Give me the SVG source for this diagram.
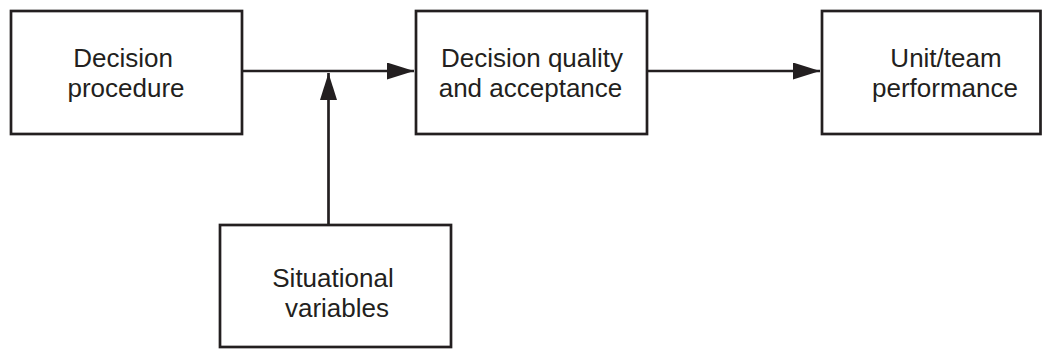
<svg xmlns="http://www.w3.org/2000/svg" width="1043" height="350" viewBox="0 0 1043 350">
<style>
.box{fill:#fff;stroke:#231f20;stroke-width:2.7}
.lbl{font-family:"Liberation Sans",Arial,sans-serif;font-size:26px;fill:#231f20;text-anchor:middle}
.con{fill:none;stroke:#231f20;stroke-width:2.7}
</style>
<defs>
<marker id="ah" viewBox="0 0 27 17" refX="27" refY="8.5" markerWidth="27" markerHeight="17" markerUnits="userSpaceOnUse" orient="auto">
<path d="M0,0 L27,8.5 L0,17 Z" fill="#231f20"/>
</marker>
</defs>
<rect width="1043" height="350" fill="#fff"/>
<g id="connectors">
<path class="con" d="M242,71 H414" marker-end="url(#ah)"/>
<path class="con" d="M647,71 H820" marker-end="url(#ah)"/>
<path class="con" d="M328.5,225 V73" marker-end="url(#ah)"/>
</g>
<g id="decision-procedure">
<rect class="box" x="11" y="11" width="231" height="123"/>
<text class="lbl" x="123" y="67">Decision</text>
<text class="lbl" x="126" y="97">procedure</text>
</g>
<g id="decision-quality">
<rect class="box" x="416" y="11" width="231" height="123"/>
<text class="lbl" x="532" y="67">Decision quality</text>
<text class="lbl" x="530.5" y="97">and acceptance</text>
</g>
<g id="unit-team">
<rect class="box" x="822" y="11" width="218.5" height="123"/>
<text class="lbl" x="946" y="67">Unit/team</text>
<text class="lbl" x="945" y="97">performance</text>
</g>
<g id="situational-variables">
<rect class="box" x="220" y="225" width="231" height="122"/>
<text class="lbl" x="333" y="287">Situational</text>
<text class="lbl" x="337" y="317">variables</text>
</g>
</svg>
